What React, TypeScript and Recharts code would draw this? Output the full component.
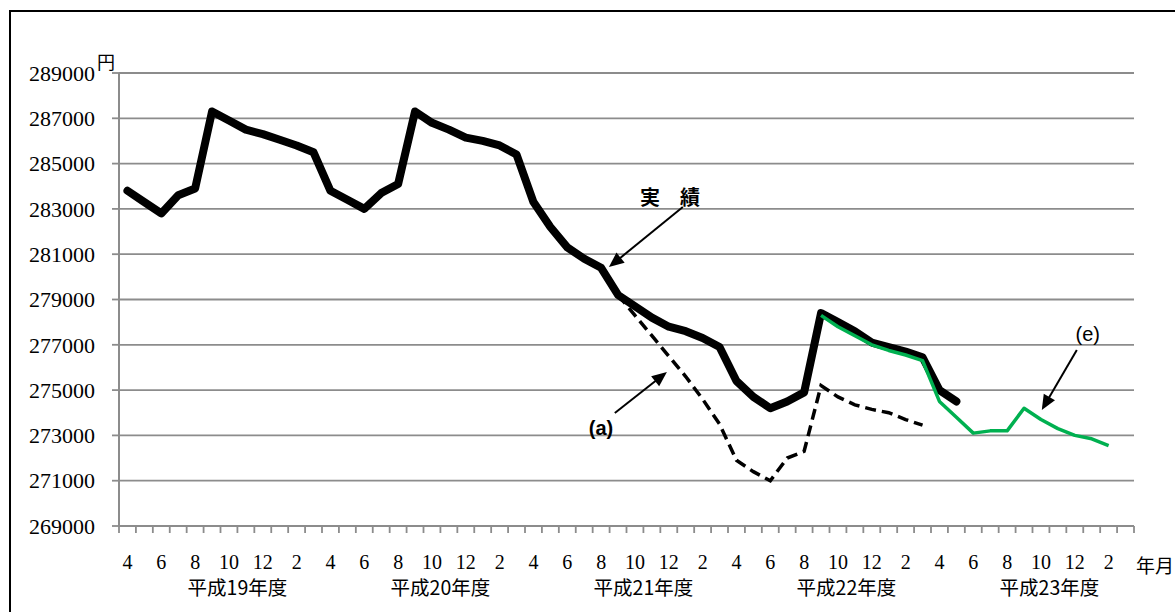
import React from 'react';
import { LineChart, Line, XAxis, YAxis, CartesianGrid, ReferenceLine, ReferenceDot } from 'recharts';

const monthLabels = [
  4, 5, 6, 7, 8, 9, 10, 11, 12, 1, 2, 3,
  4, 5, 6, 7, 8, 9, 10, 11, 12, 1, 2, 3,
  4, 5, 6, 7, 8, 9, 10, 11, 12, 1, 2, 3,
  4, 5, 6, 7, 8, 9, 10, 11, 12, 1, 2, 3,
  4, 5, 6, 7, 8, 9, 10, 11, 12, 1, 2, 3,
];
const fiscalYears = ['平成19年度', '平成20年度', '平成21年度', '平成22年度', '平成23年度'];

// 実績 (actual), from 平成19年4月
const actual = [
  283800, 283300, 282800, 283600, 283900, 287300, 286900, 286500, 286300, 286050, 285800, 285500,
  283800, 283400, 283000, 283700, 284100, 287300, 286800, 286500, 286150, 286000, 285800, 285400,
  283300, 282200, 281300, 280800, 280400, 279200, 278700, 278200, 277800, 277600, 277300, 276900,
  275400, 274700, 274200, 274500, 274900, 278400, 278000, 277600, 277100, 276900, 276700, 276450,
  275000, 274500,
];

// (a) forecast, starts at index 29
const seriesAStart = 29;
const seriesA = [
  279200, 278300, 277400, 276500, 275600, 274600, 273500, 271900, 271400, 271000,
  272000, 272300, 275200, 274700, 274350, 274150, 274000, 273700, 273450,
];

// (e) forecast, starts at index 41
const seriesEStart = 41;
const seriesE = [
  278300, 277800, 277400, 277000, 276750, 276550, 276300, 274500, 273800, 273100,
  273200, 273200, 274200, 273700, 273300, 273000, 272850, 272550,
];

const yTicks = [269000, 271000, 273000, 275000, 277000, 279000, 281000, 283000, 285000, 287000, 289000];

const boundaryTicks = Array.from({ length: 61 }, (_, i) => i);
const monthTicks = monthLabels.map((_, i) => i + 0.5).filter((_, i) => i % 2 === 0);
const yearTicks = fiscalYears.map((_, k) => k * 12 + 7);

const data = monthLabels.map((m, i) => ({
  x: i + 0.5,
  month: m,
  actual: i < actual.length ? actual[i] : null,
  a: i >= seriesAStart && i < seriesAStart + seriesA.length ? seriesA[i - seriesAStart] : null,
  e: i >= seriesEStart && i < seriesEStart + seriesE.length ? seriesE[i - seriesEStart] : null,
}));

const GRID = '#8c8c8c';
const SERIF = '"Liberation Serif", "Times New Roman", serif';
const CJK = '"Noto Sans CJK JP", sans-serif';
const SANS = '"Liberation Sans", Arial, sans-serif';

const YTick = (props: any) => {
  const { x, y, payload } = props;
  return (
    <text x={x} y={y} dy="0.35em" textAnchor="end" fontFamily={SERIF} fontSize={22} fill="#000">
      {payload.value}
    </text>
  );
};

const MonthTick = (props: any) => {
  const { x, y, payload } = props;
  const v = payload.value as number;
  if (Number.isInteger(v)) {
    const k = Math.round((v - 7) / 12);
    return (
      <text x={x} y={y + 61} textAnchor="middle" fontFamily={CJK} fontSize={19.5} fill="#000">
        {fiscalYears[k]}
      </text>
    );
  }
  const i = Math.floor(v);
  return (
    <text x={x} y={y + 35} textAnchor="middle" fontFamily={SERIF} fontSize={20} fill="#000">
      {monthLabels[i]}
    </text>
  );
};

const Arrow = (props: any) => {
  const { x1, y1, x2, y2 } = props;
  const dx = x2 - x1;
  const dy = y2 - y1;
  const len = Math.sqrt(dx * dx + dy * dy) || 1;
  const ux = dx / len;
  const uy = dy / len;
  const head = 15;
  const half = 6.5;
  const bx = x2 - ux * head;
  const by = y2 - uy * head;
  const pts = `${x2},${y2} ${bx - uy * half},${by + ux * half} ${bx + uy * half},${by - ux * half}`;
  return (
    <g>
      <line x1={x1} y1={y1} x2={bx + ux * 2} y2={by + uy * 2} stroke="#000" strokeWidth={2} />
      <polygon points={pts} fill="#000" />
    </g>
  );
};

const makeLabel = (text: string, family: string, size: number, weight: string | number) => (props: any) => {
  const { cx, cy } = props;
  return (
    <text x={cx} y={cy} dy="0.35em" textAnchor="middle" fontFamily={family} fontSize={size} fontWeight={weight} fill="#000">
      {text}
    </text>
  );
};

export default function App() {
  return (
    <div style={{ position: 'absolute', left: 0, top: 0, width: 1175, height: 612, overflow: 'hidden', background: '#fff' }}>
      <div
        style={{
          position: 'absolute',
          left: 9,
          top: 10,
          width: 1200,
          height: 640,
          border: '2px solid #000',
          boxSizing: 'border-box',
        }}
      />
      <div style={{ position: 'absolute', left: 0, top: 0 }}>
        <LineChart width={1175} height={612} data={data} margin={{ top: 73, right: 41, bottom: 26, left: 39 }}>
          <CartesianGrid xAxisId="b" horizontal vertical={false} stroke={GRID} strokeWidth={1.8} />
          <XAxis
            xAxisId="b"
            dataKey="x"
            type="number"
            domain={[0, 60]}
            ticks={boundaryTicks}
            interval={0}
            height={8}
            tickSize={7}
            axisLine={{ stroke: GRID, strokeWidth: 2 }}
            tickLine={{ stroke: GRID, strokeWidth: 1.8 }}
            tick={() => <g />}
          />
          <XAxis
            xAxisId="m"
            dataKey="x"
            type="number"
            domain={[0, 60]}
            ticks={[...monthTicks, ...yearTicks]}
            interval={0}
            height={52}
            tickSize={0}
            tickMargin={0}
            axisLine={false}
            tickLine={false}
            tick={<MonthTick />}
          />
          <YAxis
            type="number"
            domain={[269000, 289000]}
            ticks={yTicks}
            interval={0}
            width={80}
            tickSize={7}
            tickMargin={17}
            axisLine={{ stroke: GRID, strokeWidth: 2 }}
            tickLine={{ stroke: GRID, strokeWidth: 1.8 }}
            tick={<YTick />}
            allowDataOverflow
          />
          <Line
            xAxisId="b"
            dataKey="actual"
            stroke="#000"
            strokeWidth={8}
            dot={false}
            activeDot={false}
            strokeLinejoin="round"
            strokeLinecap="round"
            isAnimationActive={false}
          />
          <Line
            xAxisId="b"
            dataKey="a"
            stroke="#000"
            strokeWidth={3.5}
            strokeDasharray="11 6"
            dot={false}
            activeDot={false}
            isAnimationActive={false}
          />
          <Line
            xAxisId="b"
            dataKey="e"
            stroke="#00B050"
            strokeWidth={3.5}
            dot={false}
            activeDot={false}
            strokeLinejoin="round"
            isAnimationActive={false}
          />
          <ReferenceLine
            xAxisId="b"
            segment={[{ x: 33.33, y: 283080 }, { x: 28.96, y: 280430 }]}
            shape={Arrow}
            ifOverflow="visible"
          />
          <ReferenceLine
            xAxisId="b"
            segment={[{ x: 29.31, y: 273990 }, { x: 32.39, y: 275800 }]}
            shape={Arrow}
            ifOverflow="visible"
          />
          <ReferenceLine
            xAxisId="b"
            segment={[{ x: 56.62, y: 276770 }, { x: 54.55, y: 274120 }]}
            shape={Arrow}
            ifOverflow="visible"
          />
          <ReferenceDot xAxisId="b" x={32.57} y={283480} r={0} ifOverflow="visible" shape={makeLabel('実　績', CJK, 20, 700)} />
          <ReferenceDot xAxisId="b" x={28.49} y={273330} r={0} ifOverflow="visible" shape={makeLabel('(a)', SANS, 20, 700)} />
          <ReferenceDot xAxisId="b" x={57.27} y={277480} r={0} ifOverflow="visible" shape={makeLabel('(e)', SANS, 20, 400)} />
        </LineChart>
      </div>
      <div style={{ position: 'absolute', left: 97, top: 52, fontFamily: CJK, fontSize: 18, lineHeight: 1 }}>円</div>
      <div style={{ position: 'absolute', left: 1136, top: 555, fontFamily: CJK, fontSize: 19, lineHeight: 1, whiteSpace: 'nowrap' }}>年月</div>
    </div>
  );
}
